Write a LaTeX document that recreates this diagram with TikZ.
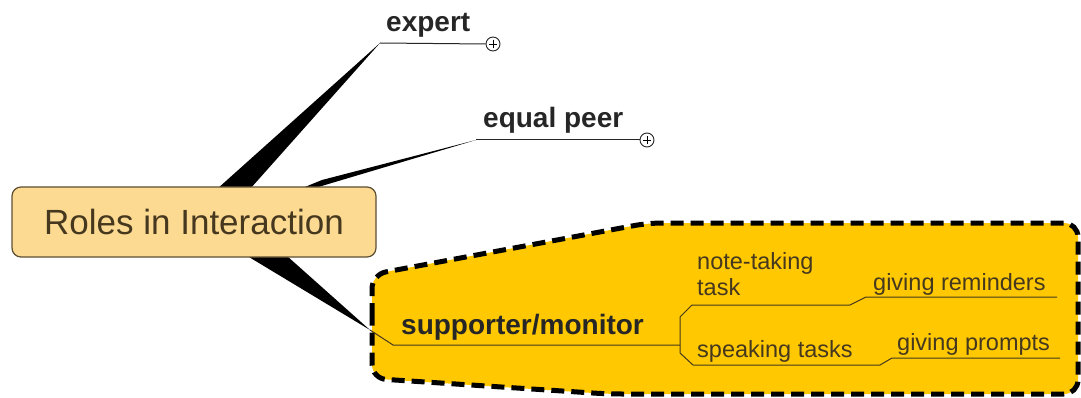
\documentclass[tikz,border=0pt]{standalone}
\usepackage{fontspec}
\setmainfont{Liberation Sans}
\usepackage{tikz}
\usepackage{xcolor}
\definecolor{boxfill}{HTML}{FDDA92}
\definecolor{boxline}{HTML}{5E4E33}
\definecolor{inkbrown}{HTML}{45381F}
\definecolor{zonefill}{HTML}{FFC800}

\begin{document}
\begin{tikzpicture}[x=1pt, y=-1pt,
  mainbox/.style={draw=boxline, fill=boxfill, line width=1.2pt, rounded corners=9pt,
    minimum width=364pt, minimum height=70pt, inner sep=0pt, text=inkbrown,
    font=\fontsize{35}{40}\selectfont},
  leaf/.style={anchor=base west, inner sep=0pt, text=black!85,
    font=\fontsize{28}{32}\selectfont\bfseries},
  subleaf/.style={anchor=base west, inner sep=0pt, text=inkbrown,
    font=\fontsize{23.5}{27}\selectfont, align=left},
  branch/.style={line width=1pt, draw=black!85},
  plusmark/.style={circle, draw=black!85, fill=white, line width=0.9pt,
    minimum size=14pt, inner sep=0pt},
  zone/.style={draw=black, fill=zonefill, line width=5pt, dash pattern=on 13pt off 7pt,
    rounded corners=14pt}
]
\useasboundingbox (0,0) rectangle (1081,398);
%\draw[very thin, color=gray] (0,0) grid[step=50] (1081,398);
%----------------------------------------
\coordinate (xtip) at (380,43);
\coordinate (ptip) at (476,140);
\coordinate (stip) at (370,330);
\coordinate (xbaseA) at (207,198);
\coordinate (xbaseB) at (242,198);
\coordinate (pbaseA) at (268,202);
\coordinate (pbaseB) at (322,180);
\coordinate (sbaseA) at (234,248);
\coordinate (sbaseB) at (278,248);
%----------------------------------------
\fill[black] (xbaseA) -- (xbaseB) -- (xtip) -- cycle;
\fill[black] (pbaseA) -- (pbaseB) -- (ptip) -- cycle;
\fill[black] (sbaseA) -- (sbaseB) -- (stip) -- cycle;
%----------------------------------------
\node[mainbox] (roles) at (194,222) {Roles in Interaction};
%----------------------------------------
\draw[zone] (372,330) -- (372,274.5) -- (648,223) -- (1078,223) -- (1078,394)
  -- (608,394) -- (372,378.5) -- cycle;
%----------------------------------------
\node[leaf] (expert) at (386,32) {expert};
\node[leaf] (peer) at (483,128) {equal peer};
\node[leaf] (support) at (401,334) {supporter/monitor};
\node[plusmark] (xplus) at (493,44) {};
\node[plusmark] (pplus) at (647,140) {};
\draw[line width=0.9pt] (xplus.center) ++(-4,0) -- ++(8,0) (xplus.center) ++(0,-4) -- ++(0,8);
\draw[line width=0.9pt] (pplus.center) ++(-4,0) -- ++(8,0) (pplus.center) ++(0,-4) -- ++(0,8);
\draw[branch] (xtip) -- (xplus.west);
\draw[branch] (ptip) -- (pplus.west);
%----------------------------------------
\node[subleaf] (note) at (697,295) {note-taking\\[-1pt]task};
\node[subleaf] (speak) at (697,357) {speaking tasks};
\node[subleaf] (remind) at (873,290) {giving reminders};
\node[subleaf] (prompt) at (897,350) {giving prompts};
%----------------------------------------
\coordinate (sjoin) at (393,345);
\coordinate (fork) at (680,345);
\coordinate (nstart) at (692,305);
\coordinate (nend) at (850,305);
\coordinate (rstart) at (866,297);
\coordinate (rend) at (1057,297);
\coordinate (kstart) at (693,365);
\coordinate (kend) at (880,365);
\coordinate (gstart) at (892,358);
\coordinate (gend) at (1060,358);
\draw[branch, draw=inkbrown] (stip) -- (sjoin) -- (fork);
\draw[branch, draw=inkbrown] (nstart) -- (680,317) -- (680,353) -- (kstart);
\draw[branch, draw=inkbrown] (nstart) -- (nend) -- (rstart) -- (rend);
\draw[branch, draw=inkbrown] (kstart) -- (kend) -- (gstart) -- (gend);
\end{tikzpicture}
\end{document}
